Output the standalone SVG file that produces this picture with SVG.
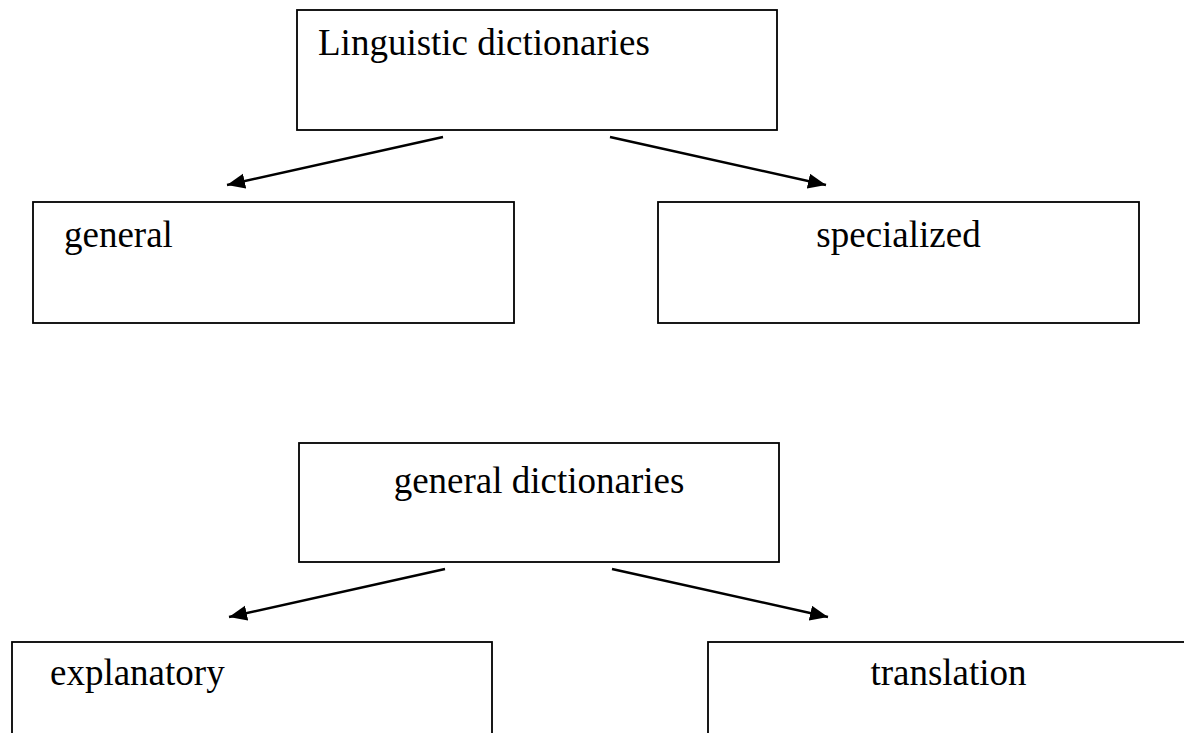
<svg xmlns="http://www.w3.org/2000/svg" width="1184" height="733" viewBox="0 0 1184 733">
  <style>
    .box { fill: #ffffff; stroke: #000000; stroke-width: 1.8; }
    .lbl { font-family: "Liberation Serif", "Times New Roman", serif; font-size: 37px; fill: #000000; }
    .mid { text-anchor: middle; }
    .edge { fill: none; stroke: #000000; stroke-width: 2.4; }
  </style>
  <defs>
    <marker id="arrow" markerUnits="userSpaceOnUse" markerWidth="20" markerHeight="16" refX="18" refY="7.5" orient="auto">
      <path d="M0,0 L18,7.5 L0,15 Z" fill="#000000"/>
    </marker>
  </defs>
  <rect x="0" y="0" width="1184" height="733" fill="#ffffff"/>

  <!-- first tree: linguistic dictionaries -->
  <g id="linguistic">
    <rect class="box" x="297" y="10" width="480" height="120"/>
    <text class="lbl" x="318" y="55">Linguistic dictionaries</text>
  </g>
  <g id="general">
    <rect class="box" x="33" y="202" width="481" height="121"/>
    <text class="lbl" x="64" y="247">general</text>
  </g>
  <g id="specialized">
    <rect class="box" x="658" y="202" width="481" height="121"/>
    <text class="lbl mid" x="898.5" y="247">specialized</text>
  </g>

  <!-- second tree: general dictionaries -->
  <g id="general-dictionaries">
    <rect class="box" x="299" y="443" width="480" height="119"/>
    <text class="lbl mid" x="539" y="493">general dictionaries</text>
  </g>
  <g id="explanatory">
    <rect class="box" x="12" y="642" width="480" height="120"/>
    <text class="lbl" x="50" y="685">explanatory</text>
  </g>
  <g id="translation">
    <rect class="box" x="708" y="642" width="481" height="120"/>
    <text class="lbl mid" x="948.5" y="685">translation</text>
  </g>

  <g id="connectors">
    <line class="edge" x1="443" y1="137" x2="227" y2="185" marker-end="url(#arrow)"/>
    <line class="edge" x1="610" y1="137" x2="826" y2="185" marker-end="url(#arrow)"/>
    <line class="edge" x1="445" y1="569" x2="229" y2="617" marker-end="url(#arrow)"/>
    <line class="edge" x1="612" y1="569" x2="828" y2="617" marker-end="url(#arrow)"/>
  </g>
</svg>
